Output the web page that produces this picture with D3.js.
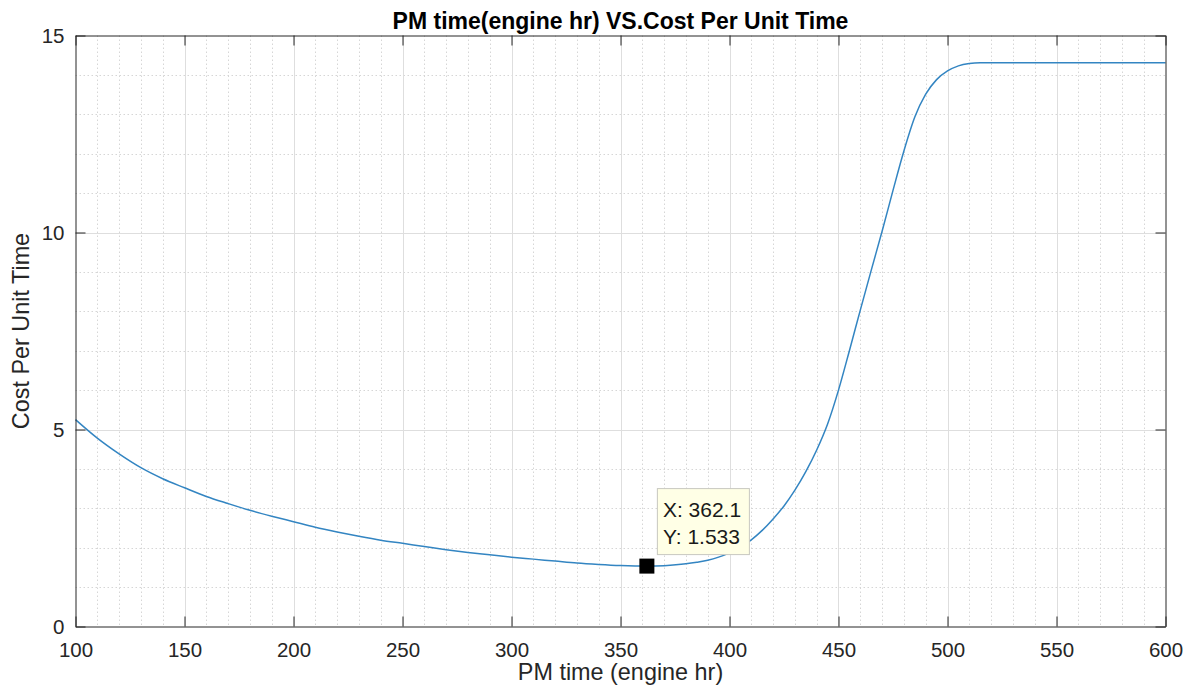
<!DOCTYPE html>
<html>
<head>
<meta charset="utf-8">
<script src="https://cdn.jsdelivr.net/npm/d3@7"></script>
<style>
  html, body { margin: 0; padding: 0; background: #fff; }
  svg { display: block; font-family: "Liberation Sans", Arial, sans-serif; }
</style>
</head>
<body>
<svg id="chart" width="1190" height="694"></svg>
<script>
// PM interval (engine hours) and resulting cost per unit time
const pmTime = [100, 110, 120, 130, 140, 150, 160, 170, 180, 190, 200, 210, 220, 230, 240, 250,
  260, 270, 280, 290, 300, 310, 320, 330, 340, 350, 362.1, 370, 380, 385, 390, 395, 400, 405, 410,
  415, 420, 425, 430, 435, 440, 445, 450, 455, 460, 465, 470, 475, 480, 485, 490, 495, 500, 505,
  510, 515, 520, 530, 540, 550, 560, 570, 580, 590, 600];
const costPerTime = [5.25, 4.78, 4.38, 4.03, 3.75, 3.52, 3.30, 3.12, 2.95, 2.80, 2.66, 2.52, 2.40, 2.29, 2.19, 2.11,
  2.03, 1.95, 1.88, 1.82, 1.76, 1.71, 1.66, 1.61, 1.575, 1.548, 1.533, 1.545, 1.59, 1.63, 1.68, 1.76, 1.87, 2.01, 2.20,
  2.44, 2.73, 3.06, 3.46, 3.93, 4.48, 5.14, 6.00, 7.00, 8.03, 9.04, 10.03, 11.07, 12.07, 12.93, 13.51, 13.88, 14.10, 14.23,
  14.29, 14.31, 14.31, 14.31, 14.31, 14.31, 14.31, 14.31, 14.31, 14.31, 14.31];

// Highlighted minimum (data tip)
const tipX = 362.1;
const tipY = 1.533;

const xTicks = [100, 150, 200, 250, 300, 350, 400, 450, 500, 550, 600];
const yTicks = [0, 5, 10, 15];
const xMinor = d3.range(100, 601, 10);
const yMinor = d3.range(0, 15.01, 1);

const titleText = "PM time(engine hr) VS.Cost Per Unit Time";
const xLabelText = "PM time (engine hr)";
const yLabelText = "Cost Per Unit Time";

const plot = { left: 75.5, right: 1165.5, top: 35.5, bottom: 626.5 };
const svg = d3.select("#chart");

const x = d3.scaleLinear().domain([100, 600]).range([plot.left, plot.right]);
const y = d3.scaleLinear().domain([0, 15]).range([plot.bottom, plot.top]);

const grid = svg.append("g");
// minor grid (dotted)
grid.selectAll("line.mx").data(xMinor.filter(v => !xTicks.includes(v)))
  .join("line").attr("x1", d => Math.round(x(d)) + 0.5).attr("x2", d => Math.round(x(d)) + 0.5)
  .attr("y1", plot.top).attr("y2", plot.bottom)
  .attr("stroke", "#d6d6d6").attr("stroke-dasharray", "1.5,2.5");
grid.selectAll("line.my").data(yMinor.filter(v => !yTicks.includes(v)))
  .join("line").attr("y1", d => Math.round(y(d)) + 0.5).attr("y2", d => Math.round(y(d)) + 0.5)
  .attr("x1", plot.left).attr("x2", plot.right)
  .attr("stroke", "#d6d6d6").attr("stroke-dasharray", "1.5,2.5");
// major grid (solid)
grid.selectAll("line.gx").data(xTicks.slice(1, -1))
  .join("line").attr("x1", d => Math.round(x(d)) + 0.5).attr("x2", d => Math.round(x(d)) + 0.5)
  .attr("y1", plot.top).attr("y2", plot.bottom).attr("stroke", "#dedede");
grid.selectAll("line.gy").data(yTicks.slice(1, -1))
  .join("line").attr("y1", d => Math.round(y(d)) + 0.5).attr("y2", d => Math.round(y(d)) + 0.5)
  .attr("x1", plot.left).attr("x2", plot.right).attr("stroke", "#dedede");

// curve
const line = d3.line()
  .x((d, i) => x(pmTime[i]))
  .y(d => y(d))
  .curve(d3.curveMonotoneX);
svg.append("path").datum(costPerTime)
  .attr("d", line).attr("fill", "none")
  .attr("stroke", "#3385c2").attr("stroke-width", 1.5);

// axes with inward ticks on all four sides
const axisColor = "#262626";
const tickLen = 10;
const fmt = d3.format("d");
const axB = svg.append("g").attr("transform", `translate(0,${plot.bottom})`)
  .call(d3.axisBottom(x).tickValues(xTicks).tickFormat(fmt).tickSizeInner(-tickLen).tickSizeOuter(0).tickPadding(16));
const axT = svg.append("g").attr("transform", `translate(0,${plot.top})`)
  .call(d3.axisTop(x).tickValues(xTicks).tickFormat("").tickSizeInner(-tickLen).tickSizeOuter(0));
const axL = svg.append("g").attr("transform", `translate(${plot.left},0)`)
  .call(d3.axisLeft(y).tickValues(yTicks).tickFormat(fmt).tickSizeInner(-tickLen).tickSizeOuter(0).tickPadding(11));
const axR = svg.append("g").attr("transform", `translate(${plot.right},0)`)
  .call(d3.axisRight(y).tickValues(yTicks).tickFormat("").tickSizeInner(-tickLen).tickSizeOuter(0));
[axB, axT, axL, axR].forEach(a => {
  a.select(".domain").attr("stroke", axisColor);
  a.selectAll(".tick line").attr("stroke", axisColor);
  a.selectAll(".tick text").attr("fill", axisColor).style("font-size", "20.5px")
    .style("font-family", "'Liberation Sans', Arial, sans-serif");
});
axB.selectAll(".tick text").attr("dy", "0.71em");
axL.selectAll(".tick text").attr("dy", "0.36em");

// data tip marker and box
const mx = x(tipX), my = y(tipY);
svg.append("rect").attr("x", mx - 7.5).attr("y", my - 7.5).attr("width", 15).attr("height", 15)
  .attr("fill", "#000");
const box = svg.append("g").attr("transform", `translate(${mx + 10},${my - 78})`);
box.append("rect").attr("x", 0.5).attr("y", 0.5).attr("width", 92).attr("height", 66)
  .attr("fill", "#ffffe6").attr("stroke", "#c8c8c0");
box.append("text").attr("x", 6).attr("y", 28.5).attr("fill", "#1a1a1a").style("font-size", "21px")
  .text("X: " + tipX.toFixed(1));
box.append("text").attr("x", 6).attr("y", 56).attr("fill", "#1a1a1a").style("font-size", "21px")
  .text("Y: " + tipY.toFixed(3));

// labels
svg.append("text").attr("x", (plot.left + plot.right) / 2).attr("y", 28.5).attr("text-anchor", "middle")
  .attr("fill", "#000").style("font-size", "23px").style("font-weight", "bold").text(titleText);
svg.append("text").attr("x", (plot.left + plot.right) / 2).attr("y", 680).attr("text-anchor", "middle")
  .attr("fill", axisColor).style("font-size", "23.4px").text(xLabelText);
svg.append("text").attr("transform", `translate(29,${(plot.top + plot.bottom) / 2}) rotate(-90)`)
  .attr("text-anchor", "middle").attr("fill", axisColor).style("font-size", "23.4px").text(yLabelText);
</script>
</body>
</html>
